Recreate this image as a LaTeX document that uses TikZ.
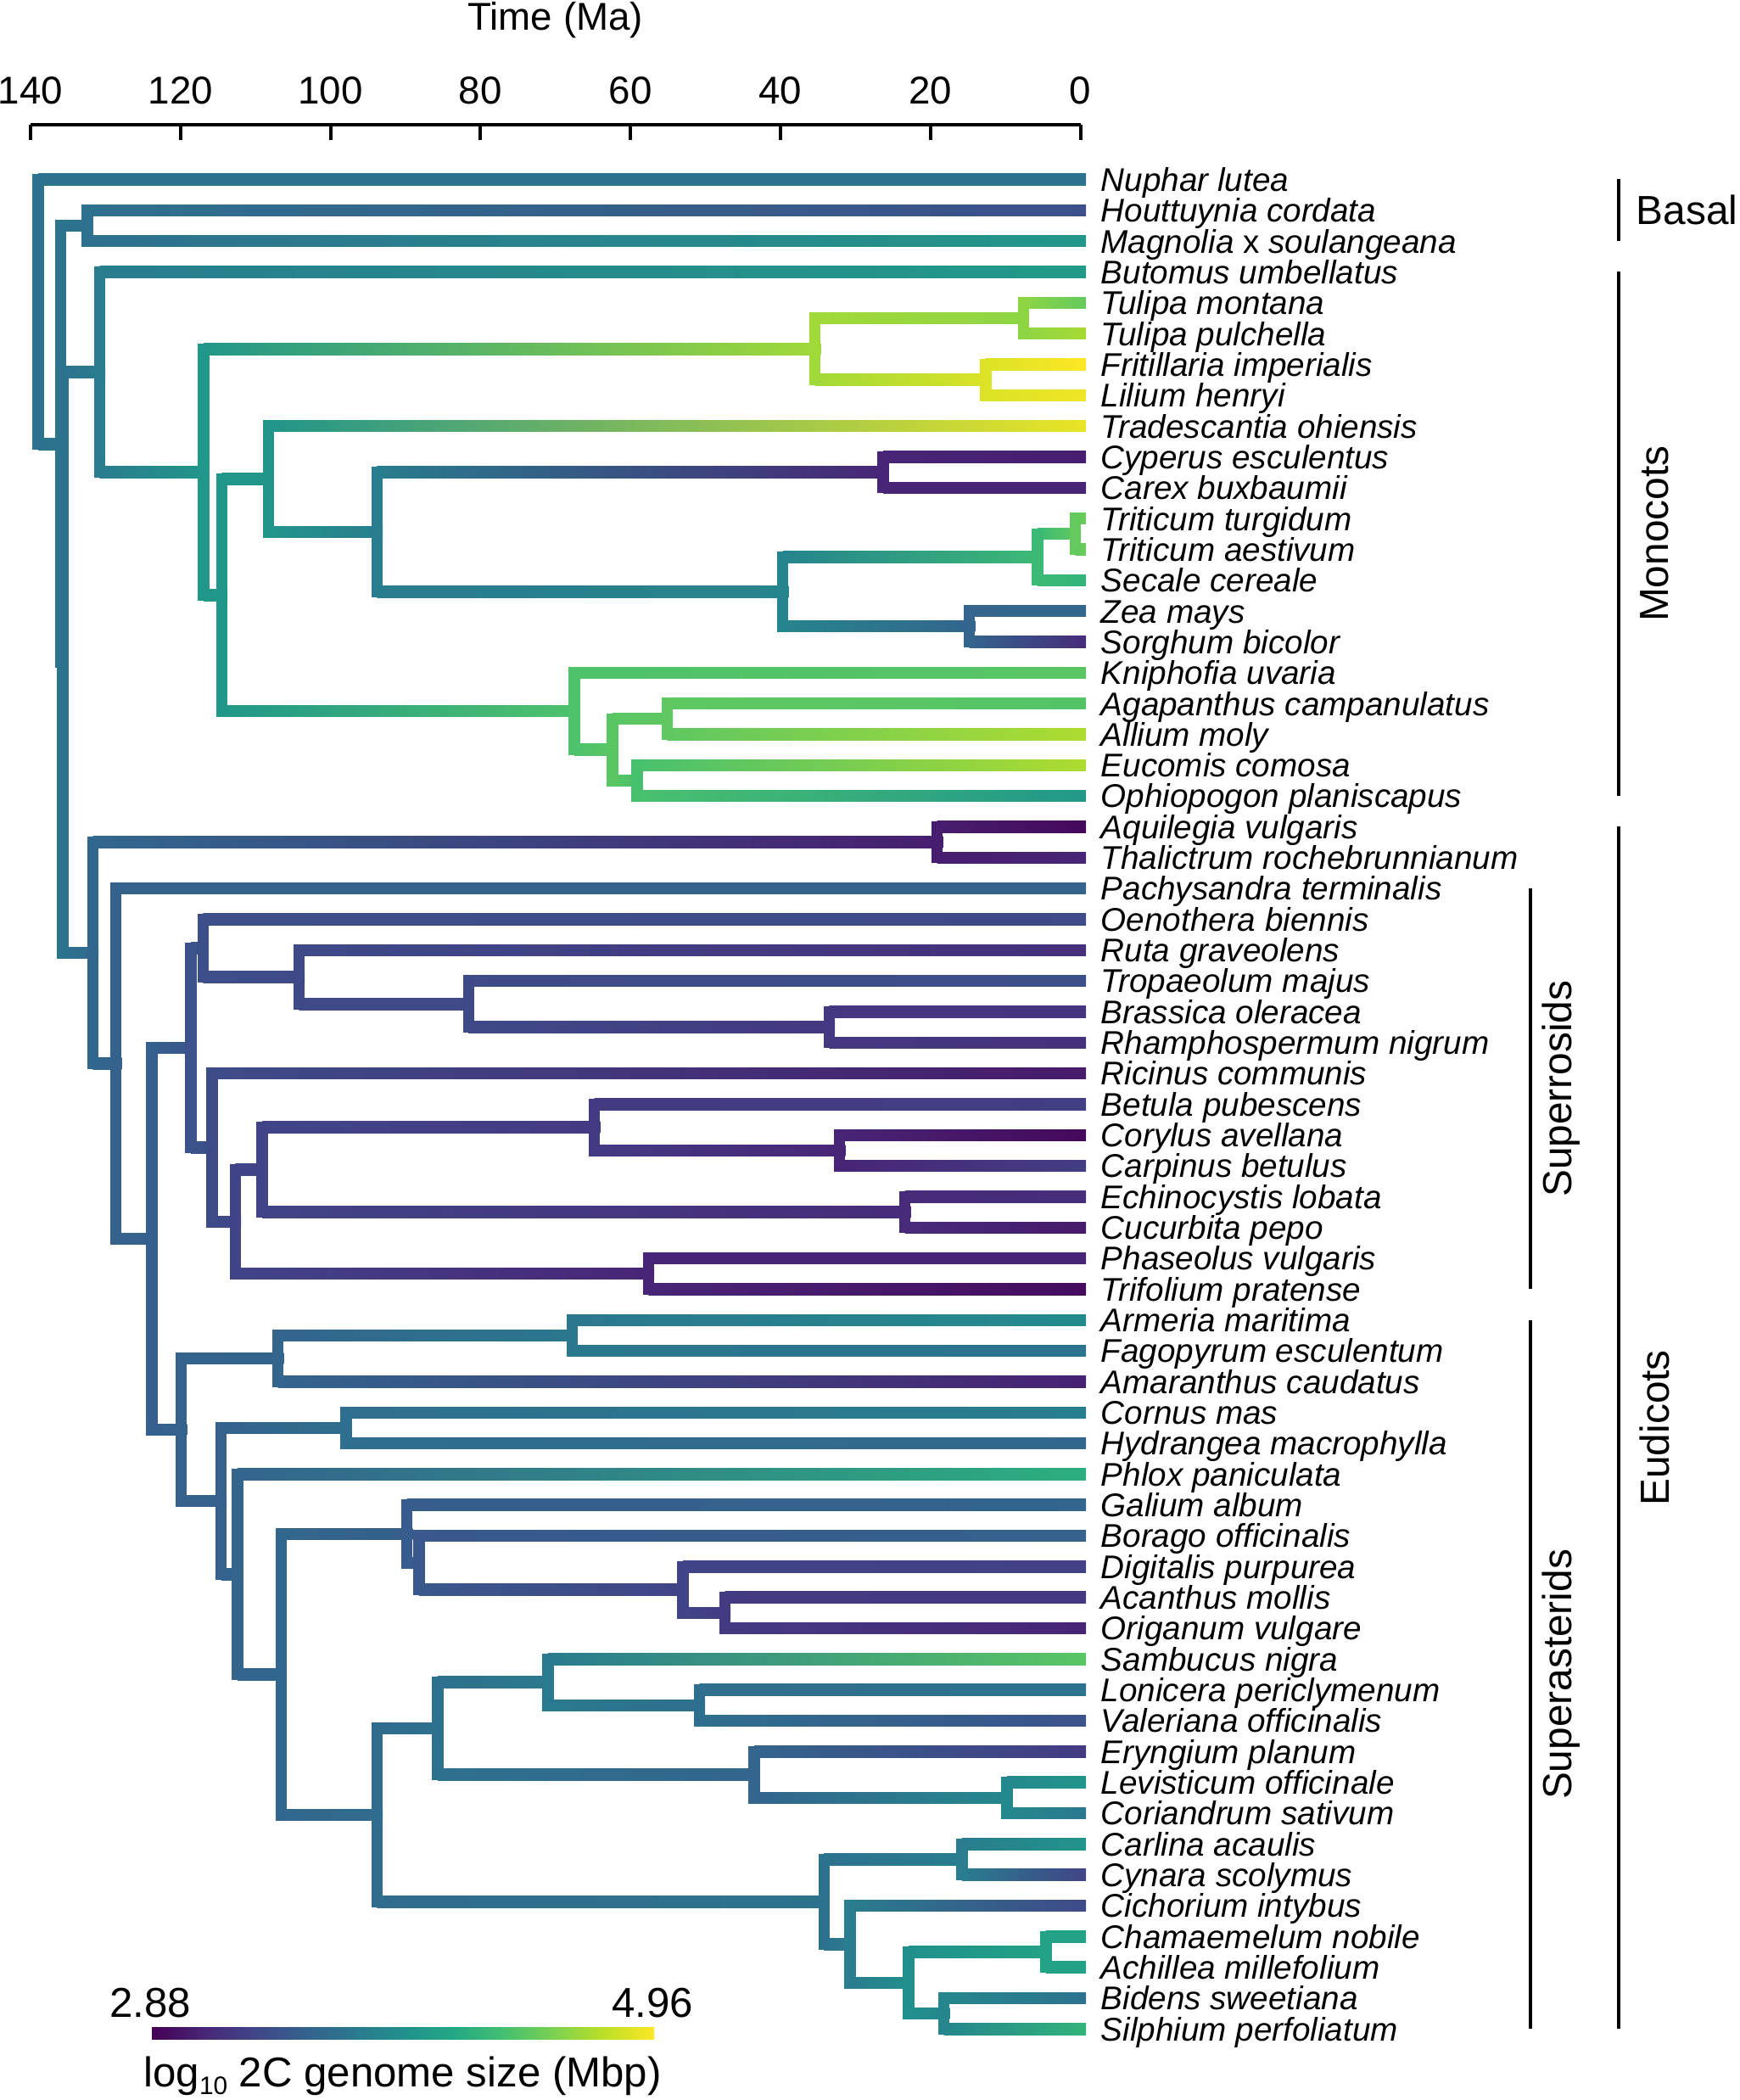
\documentclass[tikz,border=0pt]{standalone}
\usepackage{fontspec}
\setmainfont{Liberation Sans}
\usetikzlibrary{calc}

\definecolor{vir0}{HTML}{440154}
\definecolor{vir1}{HTML}{482576}
\definecolor{vir2}{HTML}{414487}
\definecolor{vir3}{HTML}{35608D}
\definecolor{vir4}{HTML}{2A788E}
\definecolor{vir5}{HTML}{21908C}
\definecolor{vir6}{HTML}{22A884}
\definecolor{vir7}{HTML}{43BF71}
\definecolor{vir8}{HTML}{7AD151}
\definecolor{vir9}{HTML}{BBDF27}
\definecolor{vir10}{HTML}{FDE725}

% viridis colour for a value between 0 and 1
\newcommand\setvir[2]{%
  \pgfmathtruncatemacro\virlo{min(floor(#2*10),9)}%
  \pgfmathtruncatemacro\virhi{\virlo+1}%
  \pgfmathsetmacro\virp{max(0,min(100,100-(#2*10-\virlo)*100))}%
  \edef\virtmp{\noexpand\xglobal\noexpand\colorlet{#1}{vir\virlo!\virp!vir\virhi}}%
  \virtmp}

\newcommand\bw{0.067cm}

\newcommand\treeedges{R/t1, R/A, A/B, A/C, B/t2, B/t3, C/D, C/E, D/t4, D/F,
  F/G, F/H, G/Gt, G/Gf, Gt/t5, Gt/t6, Gf/t7, Gf/t8, H/I, H/J, I/t9, I/K,
  K/Kc, K/L, Kc/t10, Kc/t11, L/M, L/Lz, M/N, M/t14, N/t12, N/t13, Lz/t15, Lz/t16,
  J/t17, J/O, O/P, O/Q, P/t18, P/t19, Q/t20, Q/t21,
  E/Er, E/S, Er/t22, Er/t23, S/t24, S/T, T/U, T/V, U/W, U/X, W/t25, W/Y,
  Y/t26, Y/Z, Z/t27, Z/Zb, Zb/t28, Zb/t29, X/t30, X/AA, AA/AB, AA/AAf,
  AB/AC, AB/ABc, AC/t31, AC/ACc, ACc/t32, ACc/t33, ABc/t34, ABc/t35, AAf/t36, AAf/t37,
  V/AD, V/AE, AD/ADa, AD/t40, ADa/t38, ADa/t39, AE/AEc, AE/AF, AEc/t41, AEc/t42,
  AF/t43, AF/AG, AG/AH, AG/AI, AH/t44, AH/AJ, AJ/t45, AJ/AK, AK/t46, AK/AKa,
  AKa/t47, AKa/t48, AI/AL, AI/AM, AL/AN, AL/AO, AN/t49, AN/ANl, ANl/t50, ANl/t51,
  AO/t52, AO/AOl, AOl/t53, AOl/t54, AM/AMc, AM/AP, AMc/t55, AMc/t56, AP/t57, AP/AQ,
  AQ/AQc, AQ/AQb, AQc/t58, AQc/t59, AQb/t60, AQb/t61}

\tikzset{
  vline/.style={line width=0.134cm, line cap=rect},
  tiplabel/.style={anchor=base west, inner sep=0pt, font=\fontsize{11}{12}\selectfont\itshape},
  ticklabel/.style={anchor=base, inner sep=0pt, font=\fontsize{13}{15}\selectfont},
  axisline/.style={line width=0.04cm},
  cladebar/.style={line width=0.036cm},
  cladelabel/.style={inner sep=0pt, font=\fontsize{13.6}{16}\selectfont},
  barnum/.style={anchor=base, inner sep=0pt, font=\fontsize{14}{16}\selectfont}
}

\begin{document}
\begin{tikzpicture}
  \useasboundingbox (0,0) rectangle (20.5,-24.75);

  \begin{scope}[shift={(12.735,-1.7517)}, x=-0.0884cm, y=-0.3633cm]
    % internal nodes: name/age/row/colour value
    \foreach \nm/\tm/\rw/\vl in {
      R/139.0/5.29/0.38, A/136.0/9.585/0.38, B/132.4/2.5/0.37, C/135.7/16.67/0.38,
      D/130.8/7.246/0.42, F/116.9/10.492/0.53, G/35.4/6.5/0.86, Gt/7.6/5.5/0.83,
      Gf/12.6/7.5/0.95, H/114.5/14.484/0.53, I/108.3/10.719/0.52, K/93.8/12.4375/0.42,
      Kc/26.3/10.5/0.10, L/39.7/14.375/0.45, M/5.7/13.25/0.68, N/0.7/12.5/0.76,
      Lz/14.8/15.5/0.32, J/67.5/18.25/0.72, O/62.4/19.5/0.74, P/55.1/18.5/0.75,
      Q/59.1/20.5/0.71,
      E/131.7/26.09/0.33, Er/19.1/22.5/0.08, S/128.6/29.68/0.31, T/123.8/35.367/0.30,
      U/118.6/29.172/0.25, W/117.0/25.9375/0.24, Y/104.2/26.875/0.22, Z/81.6/27.75/0.22,
      Zb/33.5/28.5/0.16, X/115.8/32.406/0.23, AA/112.7/34.8125/0.20, AB/109.1/33.125/0.20,
      AC/64.8/31.75/0.17, ACc/32.1/32.5/0.10, ABc/23.4/34.5/0.12, AAf/57.6/36.5/0.10,
      V/119.9/41.5625/0.31, AD/107.0/39.25/0.32, ADa/67.8/38.5/0.40, AE/114.6/43.875/0.31,
      AEc/97.9/41.5/0.36, AF/112.4/46.25/0.32, AG/106.6/49.5/0.33, AH/89.8/44.9375/0.29,
      AJ/88.2/45.875/0.27, AK/53.0/46.75/0.20, AKa/47.4/47.5/0.17, AI/93.8/54.0625/0.35,
      AL/85.7/51.25/0.37, AN/71.0/49.75/0.41, ANl/50.8/50.5/0.36, AO/43.5/52.75/0.32,
      AOl/9.8/53.5/0.47, AM/34.2/56.875/0.38, AMc/15.8/55.5/0.42, AP/30.7/58.25/0.42,
      AQ/22.9/59.5/0.50, AQc/4.6/58.5/0.58, AQb/18.2/60.5/0.46} {
      \coordinate (\nm) at (\tm,\rw);
      \setvir{c\nm}{\vl}
    }

    % tips: row/colour value/label
    \foreach \rw/\vl/\lab in {
      1/0.38/Nuphar lutea, 2/0.24/Houttuynia cordata,
      3/0.53/{Magnolia \textup{x} soulangeana}, 4/0.54/Butomus umbellatus,
      5/0.76/Tulipa montana, 6/0.87/Tulipa pulchella, 7/1.0/Fritillaria imperialis,
      8/0.98/Lilium henryi, 9/0.97/Tradescantia ohiensis, 10/0.08/Cyperus esculentus,
      11/0.10/Carex buxbaumii, 12/0.77/Triticum turgidum, 13/0.77/Triticum aestivum,
      14/0.65/Secale cereale, 15/0.33/Zea mays, 16/0.12/Sorghum bicolor,
      17/0.74/Kniphofia uvaria, 18/0.73/Agapanthus campanulatus, 19/0.88/Allium moly,
      20/0.88/Eucomis comosa, 21/0.53/Ophiopogon planiscapus, 22/0.02/Aquilegia vulgaris,
      23/0.10/Thalictrum rochebrunnianum, 24/0.31/Pachysandra terminalis,
      25/0.22/Oenothera biennis, 26/0.13/Ruta graveolens, 27/0.24/Tropaeolum majus,
      28/0.15/Brassica oleracea, 29/0.14/Rhamphospermum nigrum, 30/0.07/Ricinus communis,
      31/0.18/Betula pubescens, 32/0.02/Corylus avellana, 33/0.18/Carpinus betulus,
      34/0.13/Echinocystis lobata, 35/0.07/Cucurbita pepo, 36/0.10/Phaseolus vulgaris,
      37/0.03/Trifolium pratense, 38/0.48/Armeria maritima, 39/0.38/Fagopyrum esculentum,
      40/0.09/Amaranthus caudatus, 41/0.43/Cornus mas, 42/0.33/Hydrangea macrophylla,
      43/0.63/Phlox paniculata, 44/0.32/Galium album, 45/0.31/Borago officinalis,
      46/0.19/Digitalis purpurea, 47/0.16/Acanthus mollis, 48/0.10/Origanum vulgare,
      49/0.74/Sambucus nigra, 50/0.38/Lonicera periclymenum, 51/0.25/Valeriana officinalis,
      52/0.17/Eryngium planum, 53/0.52/Levisticum officinale, 54/0.40/Coriandrum sativum,
      55/0.52/Carlina acaulis, 56/0.20/Cynara scolymus, 57/0.22/Cichorium intybus,
      58/0.58/Chamaemelum nobile, 59/0.57/Achillea millefolium, 60/0.38/Bidens sweetiana,
      61/0.65/Silphium perfoliatum} {
      \coordinate (t\rw) at (0,\rw);
      \setvir{ct\rw}{\vl}
      \node[tiplabel] (l\rw) at ([xshift=0.235cm, yshift=-0.139cm]t\rw) {\lab};
    }

    \foreach \pn/\cn in \treeedges
      \shade[left color=c\pn, right color=c\cn]
        ($(\pn |- \cn)+(0pt,\bw)$) rectangle ($(\cn)+(\bw,-\bw)$);
    \foreach \pn/\cn in \treeedges
      \draw[vline, c\pn] (\pn) -- (\pn |- \cn);
  \end{scope}

  % time axis
  \begin{scope}[shift={(12.735,0)}, x=-0.0884cm]
    \draw[axisline] (0,-1.47) coordinate (ax0) -- (140,-1.47) coordinate (ax140);
    \foreach \tm in {0,20,...,140} {
      \draw[axisline] (\tm,-1.47) coordinate (tk\tm) -- (\tm,-1.65);
      \node[ticklabel] (tl\tm) at (\tm,-1.23) {\tm};
    }
    \node[ticklabel] (ttl) at (70,-0.36) {Time (Ma)};
  \end{scope}

  % clade bars
  \coordinate (bx1) at (19.08,0);
  \coordinate (bx2) at (18.04,0);
  \draw[cladebar] (t1 -| bx1) -- (t3 -| bx1);
  \draw[cladebar] (t4 -| bx1) -- (t21 -| bx1);
  \draw[cladebar] (t22 -| bx1) -- (t61 -| bx1);
  \draw[cladebar] (t24 -| bx2) -- (t37 -| bx2);
  \draw[cladebar] (t38 -| bx2) -- (t61 -| bx2);
  \node[cladelabel, anchor=west] (basal) at ($(t2 -| bx1)+(0.2,0)$) {Basal};
  \node[cladelabel, rotate=90] (mono) at ($($(t4 -| bx1)!0.5!(t21 -| bx1)$)+(0.42,0)$) {Monocots};
  \node[cladelabel, rotate=90] (eudi) at ($($(t22 -| bx1)!0.5!(t61 -| bx1)$)+(0.42,0)$) {Eudicots};
  \node[cladelabel, rotate=90] (rosid) at ($($(t24 -| bx2)!0.5!(t37 -| bx2)$)+(0.36,0)$) {Superrosids};
  \node[cladelabel, rotate=90] (aster) at ($($(t38 -| bx2)!0.5!(t61 -| bx2)$)+(0.36,0)$) {Superasterids};

  % colour bar
  \coordinate (cb0) at (1.79,-23.96);
  \coordinate (cb10) at (7.70,-23.96);
  \foreach \k [evaluate=\k as \kk using int(\k+1), evaluate=\k as \fa using \k/10,
               evaluate=\k as \fb using (\k+1)/10] in {0,...,9}
    \shade[left color=vir\k, right color=vir\kk]
      ($(cb0)!\fa!(cb10)+(0,0.07)$) rectangle ($(cb0)!\fb!(cb10)+(0.01,-0.07)$);
  \node[barnum] (cbmin) at ($(cb0)+(-0.02,0.19)$) {2.88};
  \node[barnum] (cbmax) at ($(cb10)+(-0.01,0.19)$) {4.96};
  \node[barnum] (cbttl) at ($(cb0)!0.5!(cb10)+(0,-0.63)$)
    {log\raisebox{-0.35ex}{\fontsize{8.5}{9}\selectfont 10} 2C genome size (Mbp)};
\end{tikzpicture}
\end{document}
